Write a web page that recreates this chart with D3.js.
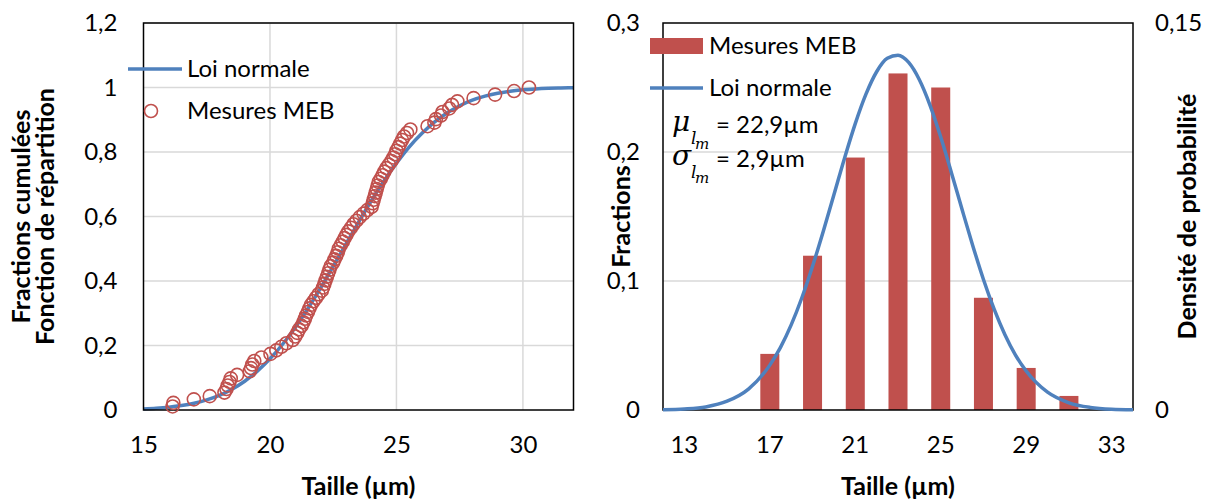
<!DOCTYPE html>
<html><head><meta charset="utf-8">
<script src="https://cdn.jsdelivr.net/npm/d3@7"></script>
<style>
body{margin:0;background:#fff}
svg text{font-family:Lato,"Open Sans",sans-serif;fill:#000}
</style></head>
<body><svg id="c" width="1205" height="502"></svg>
<script>
// ---------- DATA ----------
// Left chart: cumulative distribution
const cdfXTicks = [15, 20, 25, 30];
const cdfXTickLabels = ["15", "20", "25", "30"];
const cdfYTicks = [0, 0.2, 0.4, 0.6, 0.8, 1, 1.2];
const cdfYTickLabels = ["0", "0,2", "0,4", "0,6", "0,8", "1", "1,2"];
// Mesures MEB (sizes, µm) and their cumulative fractions
const mesuresX = [16.15,16.18,16.99,17.62,18.20,18.28,18.33,18.40,18.45,18.70,
  19.20,19.25,19.30,19.38,19.66,20.02,20.25,20.45,20.65,20.90,
  21.00,21.08,21.15,21.25,21.32,21.38,21.43,21.50,21.56,21.62,
  21.72,21.82,21.92,22.05,22.10,22.15,22.20,22.25,22.30,22.35,
  22.40,22.50,22.55,22.62,22.68,22.72,22.80,22.88,22.95,23.02,
  23.10,23.20,23.30,23.42,23.55,23.70,23.85,24.02,24.06,24.10,
  24.14,24.18,24.22,24.26,24.30,24.38,24.45,24.52,24.60,24.70,
  24.80,24.88,24.95,25.00,25.08,25.15,25.22,25.30,25.42,25.55,
  26.23,26.50,26.56,26.76,26.82,27.09,27.20,27.41,28.05,28.90,
  29.65,30.24];
const mesuresY = [0.011,0.022,0.033,0.043,0.054,0.065,0.076,0.087,0.098,0.109,
  0.120,0.130,0.141,0.152,0.163,0.174,0.185,0.196,0.207,0.217,
  0.228,0.239,0.250,0.261,0.272,0.283,0.293,0.304,0.315,0.326,
  0.337,0.348,0.359,0.370,0.380,0.391,0.402,0.413,0.424,0.435,
  0.446,0.457,0.467,0.478,0.489,0.500,0.511,0.522,0.533,0.543,
  0.554,0.565,0.576,0.587,0.598,0.609,0.620,0.630,0.641,0.652,
  0.663,0.674,0.685,0.696,0.707,0.717,0.728,0.739,0.750,0.761,
  0.772,0.783,0.793,0.804,0.815,0.826,0.837,0.848,0.859,0.870,
  0.880,0.891,0.902,0.913,0.924,0.935,0.946,0.957,0.967,0.978,
  0.989,1.000];
// Loi normale (fonction de répartition)
const cdfCurveX = [15,15.5,16,16.5,17,17.5,18,18.5,19,19.5,20,20.5,21,21.5,22,22.5,23,23.5,24,24.5,25,25.5,26,26.5,27,27.5,28,28.5,29,29.5,30,30.5,31,31.5,32];
const cdfCurveY = [0.0032,0.0054,0.0087,0.0137,0.021,0.0313,0.0455,0.0646,0.0893,0.1206,0.1587,0.2039,0.256,0.3146,0.378,0.4451,0.514,0.582,0.648,0.7094,0.765,0.8151,0.857,0.8927,0.921,0.9436,0.961,0.9733,0.982,0.9886,0.9928,0.9956,0.9974,0.9985,0.9991];

// Right chart: histogram + density
const histCats = [13,15,17,19,21,23,25,27,29,31,33];
const histTickLabels = [13,17,21,25,29,33];
const histBins = [17,19,21,23,25,27,29,31];
const histFractions = [0.0435,0.1196,0.1957,0.2609,0.2500,0.0870,0.0326,0.0109];
const fracTicks = [0, 0.1, 0.2, 0.3];
const fracTickLabels = ["0", "0,1", "0,2", "0,3"];
const densTicks = [0, 0.15];
const densTickLabels = ["0", "0,15"];
const pdfX = [12,13,14,15,16,17,17.5,18,18.5,19,19.5,20,20.5,21,21.5,22,22.5,23,23.5,24,24.5,25,25.5,26,26.5,27,27.5,28,28.5,29,30,31,32,33,34];
const pdfY = [0.0001,0.0004,0.0012,0.0034,0.0081,0.0174,0.0243,0.0330,0.0435,0.0557,0.0692,0.0834,0.0977,0.1110,0.1224,0.1311,0.1363,0.1375,0.1347,0.1280,0.1181,0.1058,0.0920,0.0777,0.0637,0.0506,0.0391,0.0293,0.0213,0.0151,0.0069,0.0028,0.0010,0.0003,0.0001];

// ---------- STYLE ----------
const BLUE = "#4F81BD", RED = "#C0504D", GRID = "#D9D9D9";
const FS = 24, FSB = 25;

const svg = d3.select("#c");

function styleAxis(g){
  g.attr("font-family", null).attr("font-size", null);
  g.select(".domain").remove();
  g.selectAll(".tick line").remove();
  g.selectAll("text").style("font-size", FS + "px");
}

// ---------- LEFT CHART ----------
const L = {x0:143.5, x1:573.5, y0:23, y1:410};
const xL = d3.scaleLinear().domain([15, 32]).range([L.x0, L.x1]);
const yL = d3.scaleLinear().domain([0, 1.2]).range([L.y1, L.y0]);
const gL = svg.append("g");

gL.append("g").selectAll("line").data(cdfYTicks.slice(1)).join("line")
  .attr("x1", L.x0).attr("x2", L.x1).attr("y1", d => yL(d)).attr("y2", d => yL(d))
  .attr("stroke", GRID).attr("stroke-width", 1.5);
gL.append("g").selectAll("line").data(cdfXTicks.slice(1)).join("line")
  .attr("x1", d => xL(d)).attr("x2", d => xL(d)).attr("y1", L.y0).attr("y2", L.y1)
  .attr("stroke", GRID).attr("stroke-width", 1.5);

gL.append("g").attr("transform", `translate(${L.x0},0)`)
  .call(d3.axisLeft(yL).tickValues(cdfYTicks).tickFormat((d,i) => cdfYTickLabels[i]).tickSize(0).tickPadding(26))
  .call(styleAxis);
gL.append("g").attr("transform", `translate(0,${L.y1})`)
  .call(d3.axisBottom(xL).tickValues(cdfXTicks).tickFormat((d,i) => cdfXTickLabels[i]).tickSize(0).tickPadding(26))
  .call(styleAxis);

const cdfLine = d3.line().x(d => xL(d[0])).y(d => yL(d[1])).curve(d3.curveMonotoneX);
gL.append("path").datum(cdfCurveX.map((x,i) => [x, cdfCurveY[i]]))
  .attr("d", cdfLine).attr("fill", "none").attr("stroke", BLUE).attr("stroke-width", 3.5);

gL.append("rect").attr("x", L.x0).attr("y", L.y0).attr("width", L.x1 - L.x0).attr("height", L.y1 - L.y0)
  .attr("fill", "none").attr("stroke", "#000").attr("stroke-width", 1.5);

gL.append("g").selectAll("circle").data(mesuresX.map((x,i) => [x, mesuresY[i]])).join("circle")
  .attr("cx", d => xL(d[0])).attr("cy", d => yL(d[1])).attr("r", 6.5)
  .attr("fill", "none").attr("stroke", RED).attr("stroke-width", 1.6);

// legend
gL.append("line").attr("x1", 128).attr("x2", 182).attr("y1", 69).attr("y2", 69)
  .attr("stroke", BLUE).attr("stroke-width", 3.5);
gL.append("text").attr("x", 187).attr("y", 77).style("font-size", FS + "px").text("Loi normale");
gL.append("circle").attr("cx", 151).attr("cy", 111).attr("r", 6.5)
  .attr("fill", "none").attr("stroke", RED).attr("stroke-width", 1.6);
gL.append("text").attr("x", 187).attr("y", 119).style("font-size", FS + "px").text("Mesures MEB");

// titles
gL.append("text").attr("transform", `translate(30,${(L.y0+L.y1)/2}) rotate(-90)`)
  .attr("text-anchor", "middle").style("font-size", FSB + "px").style("font-weight", "bold").text("Fractions cumulées");
gL.append("text").attr("transform", `translate(54,${(L.y0+L.y1)/2}) rotate(-90)`)
  .attr("text-anchor", "middle").style("font-size", FSB + "px").style("font-weight", "bold").text("Fonction de répartition");
gL.append("text").attr("x", (L.x0+L.x1)/2).attr("y", 495).attr("text-anchor", "middle")
  .style("font-size", FSB + "px").style("font-weight", "bold").text("Taille (µm)");

// ---------- RIGHT CHART ----------
const R = {x0:663, x1:1133, y0:23, y1:410};
const xBand = d3.scaleBand().domain(histCats).range([R.x0, R.x1]).paddingInner(0.555).paddingOuter(0.2775);
const xR = d3.scaleLinear().domain([12, 34]).range([R.x0, R.x1]);
const yRL = d3.scaleLinear().domain([0, 0.3]).range([R.y1, R.y0]);
const yRR = d3.scaleLinear().domain([0, 0.15]).range([R.y1, R.y0]);
const gR = svg.append("g");

gR.append("g").selectAll("line").data(fracTicks.slice(1, 3)).join("line")
  .attr("x1", R.x0).attr("x2", R.x1).attr("y1", d => yRL(d)).attr("y2", d => yRL(d))
  .attr("stroke", GRID).attr("stroke-width", 1.5);

gR.append("g").attr("transform", `translate(${R.x0},0)`)
  .call(d3.axisLeft(yRL).tickValues(fracTicks).tickFormat((d,i) => fracTickLabels[i]).tickSize(0).tickPadding(23))
  .call(styleAxis);
gR.append("g").attr("transform", `translate(${R.x1},0)`)
  .call(d3.axisRight(yRR).tickValues(densTicks).tickFormat((d,i) => densTickLabels[i]).tickSize(0).tickPadding(22))
  .call(styleAxis);
gR.append("g").attr("transform", `translate(0,${R.y1})`)
  .call(d3.axisBottom(xBand).tickValues(histTickLabels).tickSize(0).tickPadding(26))
  .call(styleAxis);

gR.append("g").selectAll("rect").data(histBins.map((c,i) => [c, histFractions[i]])).join("rect")
  .attr("x", d => xBand(d[0])).attr("width", xBand.bandwidth())
  .attr("y", d => yRL(d[1])).attr("height", d => R.y1 - yRL(d[1]))
  .attr("fill", RED);

gR.append("rect").attr("x", R.x0).attr("y", R.y0).attr("width", R.x1 - R.x0).attr("height", R.y1 - R.y0)
  .attr("fill", "none").attr("stroke", "#000").attr("stroke-width", 1.5);

const pdfLine = d3.line().x(d => xR(d[0])).y(d => yRR(d[1])).curve(d3.curveMonotoneX);
gR.append("path").datum(pdfX.map((x,i) => [x, pdfY[i]]))
  .attr("d", pdfLine).attr("fill", "none").attr("stroke", BLUE).attr("stroke-width", 3.5);

// legend
gR.append("rect").attr("x", 650).attr("y", 38).attr("width", 53).attr("height", 16).attr("fill", RED);
gR.append("text").attr("x", 709).attr("y", 54).style("font-size", FS + "px").text("Mesures MEB");
gR.append("line").attr("x1", 650).attr("x2", 703).attr("y1", 88).attr("y2", 88)
  .attr("stroke", BLUE).attr("stroke-width", 3.5);
gR.append("text").attr("x", 709).attr("y", 96).style("font-size", FS + "px").text("Loi normale");

// annotations
const MATH = "'DejaVu Serif',serif";
function mathLine(sym, val, yb){
  const g = gR.append("g");
  g.append("text").attr("x", 672).attr("y", yb).style("font-family", MATH)
    .style("font-style", "italic").style("font-size", "28px").text(sym);
  g.append("text").attr("x", 691).attr("y", yb + 13).style("font-family", MATH)
    .style("font-style", "italic").style("font-size", "17px").text("l");
  g.append("text").attr("x", 695).attr("y", yb + 18).style("font-family", MATH)
    .style("font-style", "italic").style("font-size", "15px").text("m");
  g.append("text").attr("x", 716).attr("y", yb + 2).style("font-size", FS + "px").text(val);
}
mathLine("μ", "= 22,9µm", 131);
mathLine("σ", "= 2,9µm", 165);

// titles
gR.append("text").attr("transform", `translate(630,${(R.y0+R.y1)/2}) rotate(-90)`)
  .attr("text-anchor", "middle").style("font-size", FSB + "px").style("font-weight", "bold").text("Fractions");
gR.append("text").attr("transform", `translate(1196,${(R.y0+R.y1)/2}) rotate(-90)`)
  .attr("text-anchor", "middle").style("font-size", FSB + "px").style("font-weight", "bold").text("Densité de probabilité");
gR.append("text").attr("x", (R.x0+R.x1)/2).attr("y", 495).attr("text-anchor", "middle")
  .style("font-size", FSB + "px").style("font-weight", "bold").text("Taille (µm)");
</script></body></html>
